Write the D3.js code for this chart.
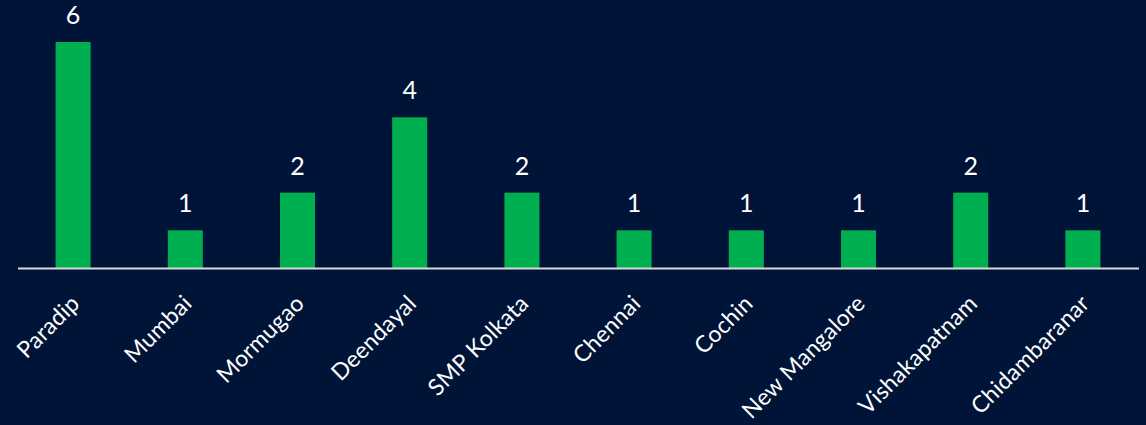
<!DOCTYPE html>
<html>
<head>
<meta charset="utf-8">
<script src="https://cdn.jsdelivr.net/npm/d3@7/dist/d3.min.js"></script>
<style>
  html, body { margin: 0; padding: 0; background: #001437; }
  svg { display: block; }
</style>
</head>
<body>
<div id="chart"></div>
<script>
const categories = ["Paradip", "Mumbai", "Mormugao", "Deendayal", "SMP Kolkata", "Chennai", "Cochin", "New Mangalore", "Vishakapatnam", "Chidambaranar"];
const values = [6, 1, 2, 4, 2, 1, 1, 1, 2, 1];

const W = 1146, H = 425;
const svg = d3.select("#chart").append("svg").attr("width", W).attr("height", H);
svg.append("rect").attr("width", W).attr("height", H).attr("fill", "#001437");

const x = d3.scaleBand().domain(categories).range([17, 1139]).paddingInner(0.688).paddingOuter(0.344);
const y = d3.scaleLinear().domain([0, 6]).range([268, 42]);

const font = "Lato, 'Open Sans', sans-serif";

svg.selectAll("rect.bar").data(values).enter().append("rect")
  .attr("class", "bar")
  .attr("x", (d, i) => x(categories[i]))
  .attr("y", d => y(d))
  .attr("width", x.bandwidth())
  .attr("height", d => y(0) - y(d))
  .attr("fill", "#00b050");

svg.selectAll("text.val").data(values).enter().append("text")
  .attr("class", "val")
  .attr("x", (d, i) => x(categories[i]) + x.bandwidth() / 2)
  .attr("y", d => y(d) - 18)
  .attr("text-anchor", "middle")
  .attr("fill", "#ffffff")
  .attr("font-family", font)
  .attr("font-size", 25)
  .text(d => d);

const axis = d3.axisBottom(x).tickSize(0).tickPadding(0);
const gx = svg.append("g").attr("transform", `translate(0,${y(0)})`).call(axis);
gx.select(".domain").attr("stroke", "#d9d9d9").attr("stroke-width", 2).attr("d", "M18,0.5H1139");
gx.selectAll(".tick text")
  .attr("fill", "#ffffff")
  .attr("font-family", font)
  .attr("font-size", 23)
  .attr("letter-spacing", 0.2)
  .attr("text-anchor", "end")
  .attr("x", 0).attr("y", 0).attr("dy", 0)
  .attr("transform", "translate(8,37) rotate(-45)");
</script>
</body>
</html>
